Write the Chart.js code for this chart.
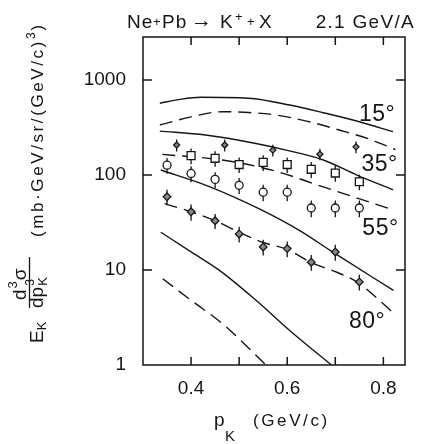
<!DOCTYPE html>
<html>
<head>
<meta charset="utf-8">
<script src="https://cdn.jsdelivr.net/npm/chart.js"></script>
<style>
  html, body { margin: 0; padding: 0; background: #fff; }
  #wrap { width: 425px; height: 444px; }
</style>
</head>
<body>
<div id="wrap"><canvas id="c"></canvas></div>
<script>
// axis ticks
const xTicks = [0.4, 0.5, 0.6, 0.7, 0.8];
const xTickLabels = [0.4, 0.6, 0.8];
const yTicks = [1, 10, 100, 1000];

// theory curves, p_K (GeV/c) vs invariant cross section
const th15X = [0.335, 0.38, 0.42, 0.52, 0.605, 0.675, 0.75, 0.82];
const th15Y = [570, 630, 658, 643, 546, 453, 364, 286];
const th15dX = [0.335, 0.40, 0.465, 0.52, 0.577, 0.64, 0.71, 0.77, 0.825];
const th15dY = [336, 410, 464, 455, 428, 370, 296, 240, 185];
const th35X = [0.335, 0.43, 0.535, 0.6, 0.675, 0.745, 0.82];
const th35Y = [290, 264, 215, 182, 144, 100, 70];
const th35dX = [0.34, 0.465, 0.57, 0.675, 0.82];
const th35dY = [165, 144, 112, 75, 43];
const th55X = [0.337, 0.434, 0.542, 0.626, 0.695, 0.821];
const th55Y = [113, 77, 44, 26, 15.4, 6.1];
const th55dX = [0.345, 0.40, 0.45, 0.50, 0.55, 0.60, 0.65, 0.70, 0.745, 0.822];
const th55dY = [50, 41, 33, 25, 19.5, 16.5, 12, 9.6, 7.5, 3.5];
const th80X = [0.337, 0.40, 0.459, 0.535, 0.61, 0.692];
const th80Y = [25, 15.5, 9.9, 4.8, 2.2, 1.0];
const th80dX = [0.341, 0.40, 0.466, 0.556];
const th80dY = [8.1, 4.8, 2.7, 1.0];

// measured points
const upX = [0.37, 0.47, 0.57, 0.668, 0.743];
const upY = [207, 207, 183, 166, 198];
const upErr = [30, 30, 26, 23, 28];
const sqX = [0.40, 0.45, 0.50, 0.55, 0.60, 0.65, 0.70, 0.75];
const sqY = [160, 150, 129, 136, 129, 115, 105, 85];
const sqErr = [30, 28, 24, 26, 24, 22, 20, 16];
const ciX = [0.35, 0.40, 0.45, 0.50, 0.55, 0.60, 0.65, 0.70, 0.75];
const ciY = [127, 104, 90, 78, 66, 66, 45, 45, 45];
const ciErr = [24, 20, 17, 15, 13, 13, 9, 9, 9];
const loX = [0.35, 0.40, 0.45, 0.50, 0.55, 0.60, 0.65, 0.70, 0.75];
const loY = [59, 41, 33, 24, 17.5, 16.8, 12.1, 15.5, 7.5];
const loErr = [11, 8, 6, 4.5, 3.3, 3.2, 2.3, 3, 1.4];

const angleLabels = ['15°', '35°', '55°', '80°'];
const angleLabelAt = [[0.787, 430], [0.792, 130], [0.794, 27.5], [0.766, 2.87]];

const INK = '#151515';
const FONT = '"Liberation Sans", "DejaVu Sans", sans-serif';

const pts = (xs, ys) => xs.map((x, i) => ({ x, y: ys[i] }));

function curve(xs, ys, dashed) {
  return {
    data: pts(xs, ys), showLine: true, pointRadius: 0, borderColor: INK,
    borderWidth: 1.4, borderDash: dashed ? [13, 7] : [], cubicInterpolationMode: 'monotone'
  };
}
function marks(xs, ys, errs, style, r, fill) {
  return {
    data: pts(xs, ys), errs, showLine: false, pointStyle: style, pointRadius: r,
    backgroundColor: fill, borderColor: INK, borderWidth: 1.3
  };
}

const datasets = [
  marks(sqX, sqY, sqErr, 'rect', 5.6, '#fff'),
  marks(ciX, ciY, ciErr, 'circle', 4, '#fff'),
  marks(upX, upY, upErr, 'rectRot', 3, '#888'),
  marks(loX, loY, loErr, 'rectRot', 3.8, '#888'),
  curve(th15X, th15Y, false), curve(th15dX, th15dY, true),
  curve(th35X, th35Y, false), curve(th35dX, th35dY, true),
  curve(th55X, th55Y, false), curve(th55dX, th55dY, true),
  curve(th80X, th80Y, false), curve(th80dX, th80dY, true)
];

function txt(ctx, s, x, y, size, align, spacing) {
  ctx.font = size + 'px ' + FONT;
  ctx.textAlign = align || 'left';
  ctx.letterSpacing = (spacing || 0) + 'px';
  ctx.fillText(s, x, y);
  const w = ctx.measureText(s).width;
  ctx.letterSpacing = '0px';
  return w;
}

// rotated text: pieces run bottom-to-top, baseline at screen x = bx
function rotPieces(ctx, bx, by, pieces) {
  ctx.save();
  ctx.translate(bx, by);
  ctx.rotate(-Math.PI / 2);
  let u = 0;
  pieces.forEach(p => {
    const w = txt(ctx, p.t, u + (p.du || 0), p.dv || 0, p.size, 'left', p.sp || 0);
    if (!p.keep) u += w + (p.du || 0);
  });
  ctx.restore();
}

const errorBars = {
  id: 'errorBars',
  beforeDatasetsDraw(chart) {
    const { ctx, scales: { x, y } } = chart;
    ctx.save();
    ctx.strokeStyle = INK;
    ctx.lineWidth = 1.3;
    chart.data.datasets.forEach(ds => {
      if (!ds.errs) return;
      ds.data.forEach((p, i) => {
        const px = x.getPixelForValue(p.x);
        ctx.beginPath();
        ctx.moveTo(px, y.getPixelForValue(p.y - ds.errs[i]));
        ctx.lineTo(px, y.getPixelForValue(p.y + ds.errs[i]));
        ctx.stroke();
      });
    });
    ctx.restore();
  }
};

const frame = {
  id: 'frame',
  afterDraw(chart) {
    const { ctx, chartArea: a, scales: { x, y } } = chart;
    ctx.save();
    ctx.strokeStyle = INK;
    ctx.fillStyle = INK;
    ctx.lineWidth = 1.5;
    ctx.strokeRect(a.left, a.top, a.right - a.left, a.bottom - a.top);
    ctx.beginPath();
    xTicks.forEach(v => {
      const px = x.getPixelForValue(v);
      ctx.moveTo(px, a.bottom); ctx.lineTo(px, a.bottom - 8);
      ctx.moveTo(px, a.top); ctx.lineTo(px, a.top + 8);
    });
    yTicks.slice(1).forEach(v => {
      const py = y.getPixelForValue(v);
      ctx.moveTo(a.left, py); ctx.lineTo(a.left + 9, py);
      ctx.moveTo(a.right, py); ctx.lineTo(a.right - 9, py);
    });
    ctx.stroke();

    // angle labels
    ctx.textBaseline = 'middle';
    angleLabels.forEach((s, i) => {
      const [vx, vy] = angleLabelAt[i];
      txt(ctx, s, x.getPixelForValue(vx), y.getPixelForValue(vy), 23, 'center', 0.5);
    });
    ctx.textBaseline = 'alphabetic';

    // title
    txt(ctx, 'Ne', 127, 28, 19, 'left', 1);
    txt(ctx, '+', 153, 26, 13);
    txt(ctx, 'Pb', 162, 28, 19, 'left', 1);
    txt(ctx, '→', 191, 27, 21);
    txt(ctx, 'K', 220, 28, 19);
    txt(ctx, '+', 235, 21, 13);
    txt(ctx, '+', 247, 26, 13);
    txt(ctx, 'X', 259, 28, 19);
    txt(ctx, '2.1 GeV/A', 415, 28, 19, 'right', 1.3);

    // x axis title
    txt(ctx, 'p', 214, 426, 19);
    txt(ctx, 'K', 225, 441, 15);
    txt(ctx, '(GeV/c)', 253, 426, 17, 'left', 2.6);

    // y axis title
    rotPieces(ctx, 43, 237, [
      { t: '(mb·GeV/sr/(GeV/c)', size: 17, sp: 2.6 },
      { t: '3', size: 12, dv: -8 },
      { t: ')', size: 17, du: 2 }
    ]);
    rotPieces(ctx, 26, 300, [
      { t: 'd', size: 19 },
      { t: '3', size: 13, dv: -9, du: 1 },
      { t: 'σ', size: 19, du: 1 }
    ]);
    ctx.lineWidth = 1.3;
    ctx.beginPath();
    ctx.moveTo(29.5, 308); ctx.lineTo(29.5, 257);
    ctx.stroke();
    rotPieces(ctx, 43, 308, [
      { t: 'dp', size: 19 },
      { t: '3', size: 12, dv: -9, du: 1, keep: true },
      { t: 'K', size: 13, dv: 4, du: 1 }
    ]);
    rotPieces(ctx, 43, 343, [
      { t: 'E', size: 19 },
      { t: 'K', size: 13, dv: 3 }
    ]);
    ctx.restore();
  }
};

new Chart(document.getElementById('c'), {
  type: 'scatter',
  data: { datasets },
  options: {
    responsive: true,
    maintainAspectRatio: false,
    animation: false,
    layout: { padding: { left: 0, right: 20, top: 37, bottom: 0 } },
    plugins: { legend: { display: false }, tooltip: { enabled: false } },
    scales: {
      x: {
        type: 'linear', min: 0.3, max: 0.845,
        grid: { display: false }, border: { display: false },
        afterBuildTicks: s => { s.ticks = xTickLabels.map(v => ({ value: v })); },
        afterFit: s => { s.height = 79; },
        ticks: {
          padding: 4, autoSkip: false, maxRotation: 0, color: INK,
          font: { family: FONT, size: 19 },
          callback: v => v.toFixed(1)
        }
      },
      y: {
        type: 'logarithmic', min: 1, max: 2840,
        grid: { display: false }, border: { display: false },
        afterBuildTicks: s => { s.ticks = yTicks.map(v => ({ value: v })); },
        afterFit: s => { s.width = 143; },
        ticks: {
          padding: 9, color: INK,
          font: { family: FONT, size: 19 },
          callback: v => String(v)
        }
      }
    }
  },
  plugins: [errorBars, frame]
});
</script>
</body>
</html>
